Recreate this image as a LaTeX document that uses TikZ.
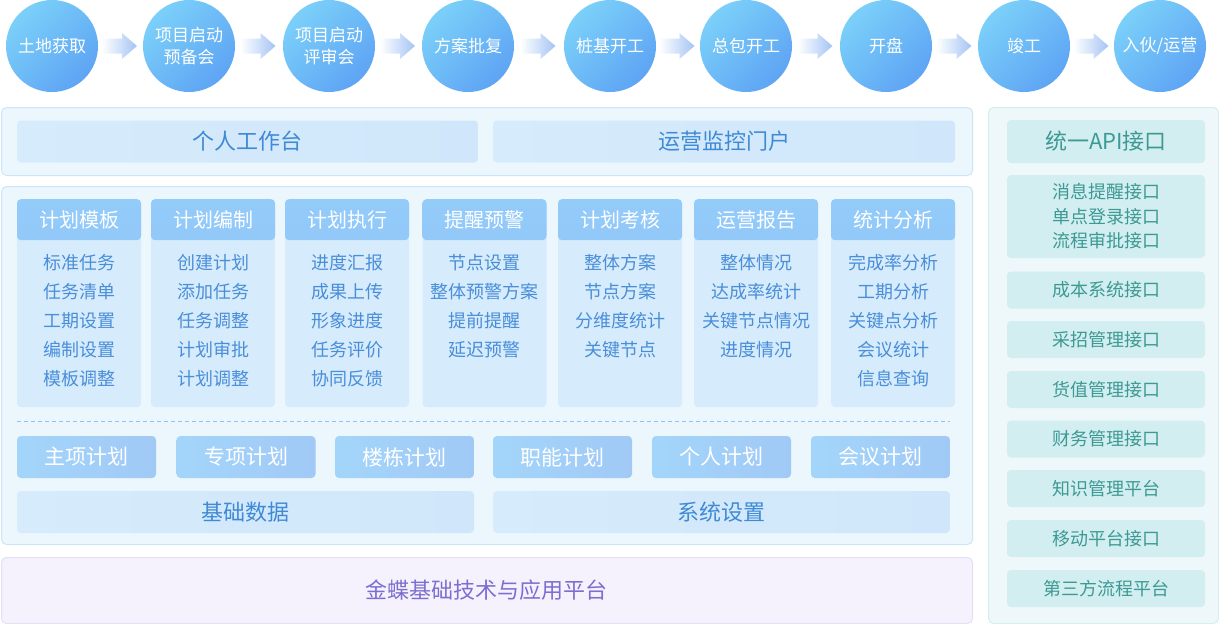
\documentclass[tikz,border=0pt]{standalone}
\usepackage{fontspec}
\setmainfont{Noto Sans CJK SC}
\usetikzlibrary{calc}
\definecolor{stageA}{HTML}{7BD0F9}
\definecolor{stageB}{HTML}{5EA4F4}
\definecolor{flowarr}{HTML}{A4C4F4}
\definecolor{panelbg}{HTML}{ECF6FD}
\definecolor{panelln}{HTML}{CBE6F8}
\definecolor{boxA}{HTML}{D6ECFC}
\definecolor{boxB}{HTML}{D0E6FA}
\definecolor{boxtxt}{HTML}{3E8AD6}
\definecolor{headA}{HTML}{93CBF9}
\definecolor{headB}{HTML}{8BBEF6}
\definecolor{planA}{HTML}{A3D5FA}
\definecolor{planB}{HTML}{A1C9F6}
\definecolor{itemtxt}{HTML}{4A8ED9}
\definecolor{dashcol}{HTML}{8EC3F0}
\definecolor{basebg}{HTML}{F5F2FD}
\definecolor{baseln}{HTML}{E4DEF7}
\definecolor{basetxt}{HTML}{7C6FD0}
\definecolor{apibg}{HTML}{EEF8FA}
\definecolor{apiln}{HTML}{D4EFF2}
\definecolor{apibox}{HTML}{D3EEF1}
\definecolor{apitxt}{HTML}{3C9993}
\newcommand{\fsz}[2]{\fontsize{#1}{#2}\selectfont}
\tikzset{
  stage/.style    = {circle,minimum size=92pt,inner sep=0pt,align=center,text=white,
                     font=\fsz{17}{22},top color=stageA,bottom color=stageB,shading angle=45},
  panel/.style    = {rounded corners=5pt,fill=panelbg,draw=panelln,line width=1pt,
                     inner sep=0pt,anchor=north west},
  widebox/.style  = {rounded corners=4pt,left color=boxA,right color=boxB,text=boxtxt,
                     font=\fsz{22}{22},minimum height=42pt,inner sep=0pt},
  card/.style     = {rounded corners=4pt,fill=boxA,minimum width=124pt,minimum height=208pt,
                     inner sep=0pt,anchor=north,
                     path picture={\shade[top color=headA,bottom color=headB]
                       (path picture bounding box.north west) rectangle
                       ([yshift=-41pt]path picture bounding box.north east);}},
  headtxt/.style  = {text=white,font=\fsz{20}{20},inner sep=0pt},
  itemlist/.style = {text=itemtxt,font=\fsz{18}{29},align=center,inner sep=0pt,anchor=north},
  planbox/.style  = {rounded corners=4pt,left color=planA,right color=planB,text=white,
                     font=\fsz{21}{21},minimum width=139pt,minimum height=42pt,inner sep=0pt},
  apibox/.style   = {rounded corners=4pt,fill=apibox,text=apitxt,font=\fsz{18}{24.5},
                     align=center,minimum width=198pt,minimum height=37pt,inner sep=0pt}
}

\begin{document}
\begin{tikzpicture}[x=1pt,y=-1pt]
  \useasboundingbox (0,0) rectangle (1219,624);

  % stages
  \foreach \i/\x/\t in {1/52/土地获取,2/189/{项目启动\\预备会},3/329/{项目启动\\评审会},
      4/468/方案批复,5/610/桩基开工,6/746/总包开工,7/886/开盘,8/1024/竣工,9/1160/{入伙/运营}}
    \node[stage] (s\i) at (\x,46) {\t};
  \foreach \a/\b in {s1/s2,s2/s3,s3/s4,s4/s5,s5/s6,s6/s7,s7/s8,s8/s9}
    \shade[left color=white,right color=flowarr] ($(\a)!0.5!(\b)$) ++(-18.5,-7.5)
      -- ++(20,0) -- ++(0,-5.5) -- ++(15,13) -- ++(-15,13) -- ++(0,-5.5) -- ++(-20,0) -- cycle;

  % portal
  \node[panel,minimum width=971pt,minimum height=68pt] (top) at (1,107) {};
  \node[widebox,minimum width=461pt] (desk) at (247.5,141.5) {个人工作台};
  \node[widebox,minimum width=462pt] (monitor) at (724,141.5) {运营监控门户};

  % planning modules
  \node[panel,minimum width=971pt,minimum height=358pt] (main) at (1,186) {};
  \foreach \n/\x/\h/\lst in {
      1/79/计划模板/{标准任务\\任务清单\\工期设置\\编制设置\\模板调整},
      2/213/计划编制/{创建计划\\添加任务\\任务调整\\计划审批\\计划调整},
      3/347/计划执行/{进度汇报\\成果上传\\形象进度\\任务评价\\协同反馈},
      4/484.5/提醒预警/{节点设置\\整体预警方案\\提前提醒\\延迟预警},
      5/620/计划考核/{整体方案\\节点方案\\分维度统计\\关键节点},
      6/756/运营报告/{整体情况\\达成率统计\\关键节点情况\\进度情况},
      7/893/统计分析/{完成率分析\\工期分析\\关键点分析\\会议统计\\信息查询}}{
    \node[card] (k\n) at (\x,199) {};
    \node[headtxt] (t\n) at ([yshift=-20.5pt]k\n.north) {\h};
    \node[itemlist] (i\n) at ([yshift=-55pt]k\n.north) {\lst};
  }
  \draw[dashcol,dash pattern=on 4pt off 3pt] (17,421) -- (950,421);
  \foreach \n/\x/\t in {1/86.5/主项计划,2/246/专项计划,3/404.5/楼栋计划,
      4/562.5/职能计划,5/721.5/个人计划,6/880.5/会议计划}
    \node[planbox] (p\n) at (\x,457) {\t};
  \node[widebox,minimum width=457pt] (basedata) at (245.5,512) {基础数据};
  \node[widebox,minimum width=457pt] (settings) at (721.5,512) {系统设置};

  % platform
  \node[panel,fill=basebg,draw=baseln,minimum width=971pt,minimum height=66pt] (base) at (1,557) {};
  \node[text=basetxt,font=\fsz{22}{22}] (basetxt) at (486,590) {金蝶基础技术与应用平台};

  % api column
  \node[panel,fill=apibg,draw=apiln,minimum width=230pt,minimum height=516pt] (api) at (988,107) {};
  \node[apibox,minimum height=43pt,font=\fsz{22}{22}] (a0) at (1106,141.5) {统一API接口};
  \node[apibox,minimum height=83pt] (a1) at (1106,216.5) {消息提醒接口\\单点登录接口\\流程审批接口};
  \foreach \n/\y/\t in {2/290/成本系统接口,3/339.5/采招管理接口,4/389.5/货值管理接口,
      5/439/财务管理接口,6/488.5/知识管理平台,7/538.5/移动平台接口,8/588.5/第三方流程平台}
    \node[apibox] (a\n) at (1106,\y) {\t};
\end{tikzpicture}
\end{document}
